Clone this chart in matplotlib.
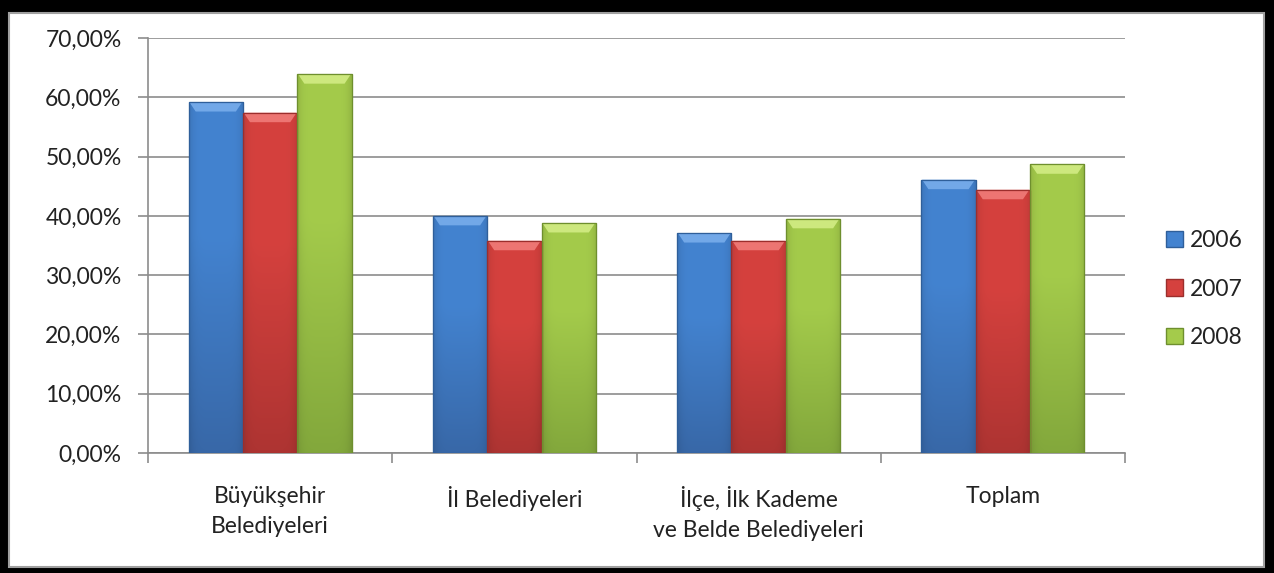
import matplotlib
matplotlib.use("Agg")
import matplotlib.pyplot as plt
import numpy as np
from matplotlib.patches import Rectangle, Polygon
from matplotlib.colors import to_rgb
from matplotlib.ticker import FuncFormatter, MultipleLocator

categories = ["Büyükşehir\nBelediyeleri", "İl Belediyeleri",
              "İlçe, İlk Kademe\nve Belde Belediyeleri", "Toplam"]
series_names = ["2006", "2007", "2008"]
v2006 = [59.2, 40.0, 37.1, 46.1]
v2007 = [57.4, 35.8, 35.8, 44.4]
v2008 = [63.9, 38.8, 39.5, 48.7]
values = [v2006, v2007, v2008]

face = ["#4383D0", "#D5413E", "#A4CB4B"]
bottom_c = ["#3868A8", "#AE3432", "#83A83C"]
edge = ["#2F5F9A", "#9C2E2C", "#6E8F2E"]
light = ["#78ADEB", "#F07C79", "#D2EC84"]

plt.rcParams["font.family"] = ["Lato", "DejaVu Sans"]

fig = plt.figure(figsize=(12.74, 5.73), dpi=100)
W, H = 1274, 573

# black frame
fig.patches.append(Rectangle((0, 0), 1, 1, transform=fig.transFigure,
                             facecolor="black", edgecolor="none", zorder=-10))
fig.patches.append(Rectangle((9 / W, 6 / H), (W - 19) / W, (H - 19) / H,
                             transform=fig.transFigure, facecolor="white",
                             edgecolor="#A0A0A0", linewidth=1.5, zorder=-9))

ax = fig.add_axes([148 / W, 1 - 453 / H, (1125 - 148) / W, (453 - 38) / H])
ax.patch.set_alpha(0)

bw = 0.2225
x = np.arange(len(categories)) + 0.5
yy = np.linspace(0, 1, 64)[:, None]          # 0 bottom -> 1 top
xx = np.linspace(-1, 1, 32)[None, :]
for i, (name, vals) in enumerate(zip(series_names, values)):
    pos = x + (i - 1) * bw
    bars = ax.bar(pos, vals, width=bw, color=face[i], edgecolor=edge[i],
                  linewidth=0.8, zorder=3, label=name)
    top = np.array(to_rgb(face[i]))
    bot = np.array(to_rgb(bottom_c[i]))
    for rect in bars:
        x0, w, h = rect.get_x(), rect.get_width(), rect.get_height()
        t = np.clip(yy * 1.6, 0, 1)
        col = bot[None, None, :] * (1 - t[..., None]) + top[None, None, :] * t[..., None]
        shade = 1 - 0.10 * (np.abs(xx) ** 6)
        img = col * shade[..., None]
        img = np.broadcast_to(img, (64, 32, 3))
        im = ax.imshow(img, extent=(x0, x0 + w, 0, h), origin="lower",
                       aspect="auto", zorder=3.2, interpolation="bilinear")
        im.set_clip_path(rect)
        # bevel at the top
        bh = 1.6
        d = w * 0.13
        ax.add_patch(Polygon([(x0 + 0.003, h), (x0 + w - 0.003, h),
                              (x0 + w - d, h - bh), (x0 + d, h - bh)],
                             closed=True, facecolor=light[i], edgecolor="none",
                             alpha=0.9, zorder=3.4))
        ax.add_patch(Rectangle((x0, 0), w, h, facecolor="none",
                               edgecolor=edge[i], linewidth=0.9, zorder=3.5))

ax.set_xlim(0, 4)
ax.set_ylim(0, 70)
ax.yaxis.set_major_locator(MultipleLocator(10))
ax.yaxis.set_major_formatter(FuncFormatter(lambda v, p: f"{v:.2f}%".replace(".", ",")))
ax.grid(axis="y", color="#8C8C8C", linewidth=1.2, zorder=0)
ax.set_axisbelow(True)

ax.set_xticks([0, 1, 2, 3, 4])
ax.set_xticklabels([])
ax.set_xticks(x, minor=True)
ax.set_xticklabels(categories, minor=True, fontsize=16.5, color="#222222",
                   linespacing=1.5)
ax.tick_params(axis="x", which="major", length=7, color="#8C8C8C", width=1.2)
ax.tick_params(axis="x", which="minor", length=0, pad=24)
ax.tick_params(axis="y", length=7, color="#8C8C8C", width=1.2,
               labelsize=16.5, labelcolor="#222222", pad=12)

for s in ["top", "right"]:
    ax.spines[s].set_visible(False)
ax.spines["left"].set_color("#8C8C8C")
ax.spines["bottom"].set_color("#8C8C8C")
ax.spines["left"].set_linewidth(1.2)
ax.spines["bottom"].set_linewidth(1.2)

handles = [Rectangle((0, 0), 1, 1, facecolor=face[i], edgecolor=edge[i])
           for i in range(3)]
leg = fig.legend(handles, series_names, loc="center left",
                 bbox_to_anchor=(1166 / W, 1 - 289 / H),
                 frameon=False, fontsize=16.5, handlelength=0.75,
                 handleheight=0.75, handletextpad=0.3, labelspacing=1.2,
                 labelcolor="#222222", borderaxespad=0, borderpad=0)

fig.savefig("out.png", dpi=100)
